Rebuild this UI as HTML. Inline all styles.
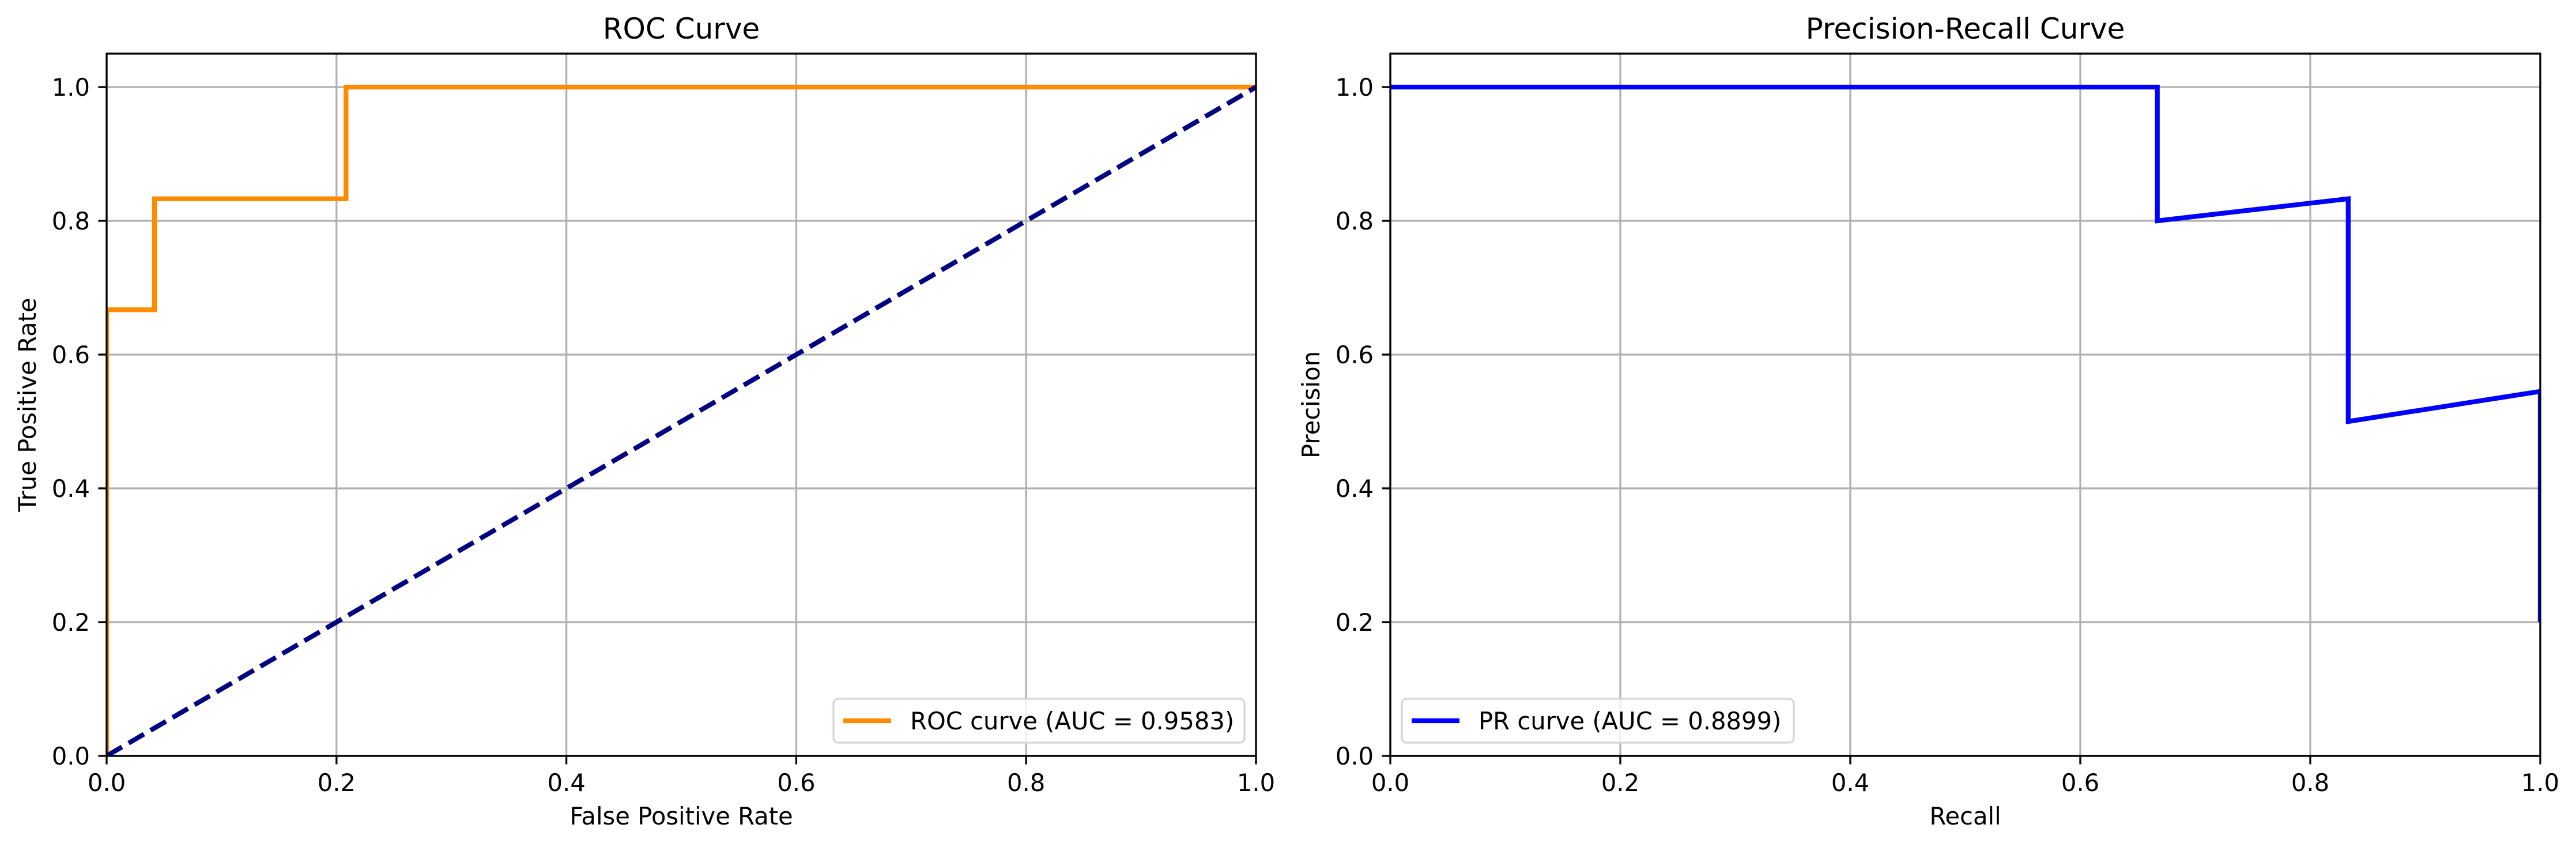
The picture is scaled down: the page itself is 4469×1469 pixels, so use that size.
<!DOCTYPE html>
<html><head><meta charset="utf-8">
<style>
html,body{margin:0;padding:0;background:#fff;}
svg{display:block;}
text{font-family:"DejaVu Sans","Liberation Sans",sans-serif;fill:#000;}
</style></head>
<body>
<svg id="fig" width="4469" height="1469" viewBox="0 0 4469 1469" xmlns="http://www.w3.org/2000/svg"></svg>
<script>
const rocFpr = [0, 0, 0.0417, 0.0417, 0.2083, 0.2083, 1];
const rocTpr = [0, 0.667, 0.667, 0.833, 0.833, 1, 1];
const diagX = [0, 1];
const diagY = [0, 1];
const prRecall = [0, 0.667, 0.667, 0.833, 0.833, 1, 1];
const prPrecision = [1, 1, 0.8, 0.833, 0.5, 0.545, 0.2];
const tickValues = [0, 0.2, 0.4, 0.6, 0.8, 1.0];
const tickLabels = ["0.0", "0.2", "0.4", "0.6", "0.8", "1.0"];

const NS = "http://www.w3.org/2000/svg";
const svg = document.getElementById('fig');
function mk(tag, attrs, parent) {
  const e = document.createElementNS(NS, tag);
  for (const k in attrs) e.setAttribute(k, attrs[k]);
  (parent || svg).appendChild(e);
  return e;
}
const Y0 = 1311, YS = 1160, TOP = 93;
function makePanel(left, right, cfg) {
  const W = right - left;
  const sx = v => left + v * W;
  const sy = v => Y0 - v * YS;
  const g = mk('g', {});
  
  
  const clipId = cfg.name + '-clip';
  const cp = mk('clipPath', {id: clipId}, g);
  mk('rect', {x: left, y: TOP, width: W, height: Y0 - TOP}, cp);
  tickValues.forEach((v, i) => {
    const gx = mk('line', {x1: sx(v), x2: sx(v), y1: TOP, y2: Y0, stroke: '#b0b0b0', 'stroke-width': 3.3}, g);
    
    
    const gy = mk('line', {x1: left, x2: right, y1: sy(v), y2: sy(v), stroke: '#b0b0b0', 'stroke-width': 3.3}, g);
    
    
  });
  cfg.series.forEach(s => {
    const pts = s.x.map((v, i) => sx(v) + ',' + sy(s.y[i])).join(' ');
    const pl = mk('polyline', {points: pts, fill: 'none', stroke: s.color, 'stroke-width': 8.3, 'stroke-linejoin': 'miter', 'clip-path': 'url(#' + clipId + ')'}, g);
    if (s.dash) pl.setAttribute('stroke-dasharray', s.dash);
    
    
  });
  const fr = mk('rect', {x: left, y: TOP, width: W, height: Y0 - TOP, fill: 'none', stroke: '#000', 'stroke-width': 3.3}, g);
  
  
  tickValues.forEach((v, i) => {
    const tx = mk('line', {x1: sx(v), x2: sx(v), y1: Y0, y2: Y0 + 14.6, stroke: '#000', 'stroke-width': 3.3}, g);
    
    
    const lx = mk('text', {x: sx(v), y: Y0 + 61, 'font-size': 41.7, 'text-anchor': 'middle'}, g);
    lx.textContent = tickLabels[i];
    
    
    const ty = mk('line', {x1: left - 14.6, x2: left, y1: sy(v), y2: sy(v), stroke: '#000', 'stroke-width': 3.3}, g);
    
    
    const ly = mk('text', {x: left - 29, y: sy(v) + 15, 'font-size': 41.7, 'text-anchor': 'end'}, g);
    ly.textContent = tickLabels[i];
    
    
  });
  const t = mk('text', {x: (left + right) / 2, y: 67, 'font-size': 50, 'text-anchor': 'middle'}, g);
  t.textContent = cfg.title;
  
  
  const xl = mk('text', {x: (left + right) / 2, y: 1430, 'font-size': 41.7, 'text-anchor': 'middle'}, g);
  xl.textContent = cfg.xlabel;
  
  
  const ylx = left - 123;
  const yl = mk('text', {x: ylx, y: (TOP + Y0) / 2, 'font-size': 41.7, 'text-anchor': 'middle', transform: 'rotate(-90 ' + ylx + ' ' + ((TOP + Y0) / 2) + ')'}, g);
  yl.textContent = cfg.ylabel;
  
  
  const L = cfg.legend;
  const lg = mk('g', {}, g);
  
  
  mk('rect', {x: L.x, y: 1212, width: L.w, height: 76, rx: 8, fill: '#fff', 'fill-opacity': 0.8, stroke: '#d6d6d6', 'stroke-width': 3.3}, lg);
  const ll = mk('line', {x1: L.x + 17, x2: L.x + 100, y1: 1250, y2: 1250, stroke: L.color, 'stroke-width': 8.3}, lg);
  
  
  const lt = mk('text', {x: L.x + 133, y: 1265, 'font-size': 41.7}, lg);
  lt.textContent = L.text;
  
  
}
makePanel(185, 2179, {
  name: 'roc-panel', title: 'ROC Curve', xlabel: 'False Positive Rate', ylabel: 'True Positive Rate',
  series: [
    {name: 'roc-curve-line', x: rocFpr, y: rocTpr, color: '#ff8c00'},
    {name: 'chance-diagonal-line', x: diagX, y: diagY, color: '#000080', dash: '30.8 13.3'}
  ],
  legend: {x: 1446, w: 713, color: '#ff8c00', text: 'ROC curve (AUC = 0.9583)'}
});
makePanel(2412, 4407, {
  name: 'pr-panel', title: 'Precision-Recall Curve', xlabel: 'Recall', ylabel: 'Precision',
  series: [
    {name: 'pr-curve-line', x: prRecall, y: prPrecision, color: '#0000ff'}
  ],
  legend: {x: 2432, w: 680, color: '#0000ff', text: 'PR curve (AUC = 0.8899)'}
});
</script>
</body></html>
